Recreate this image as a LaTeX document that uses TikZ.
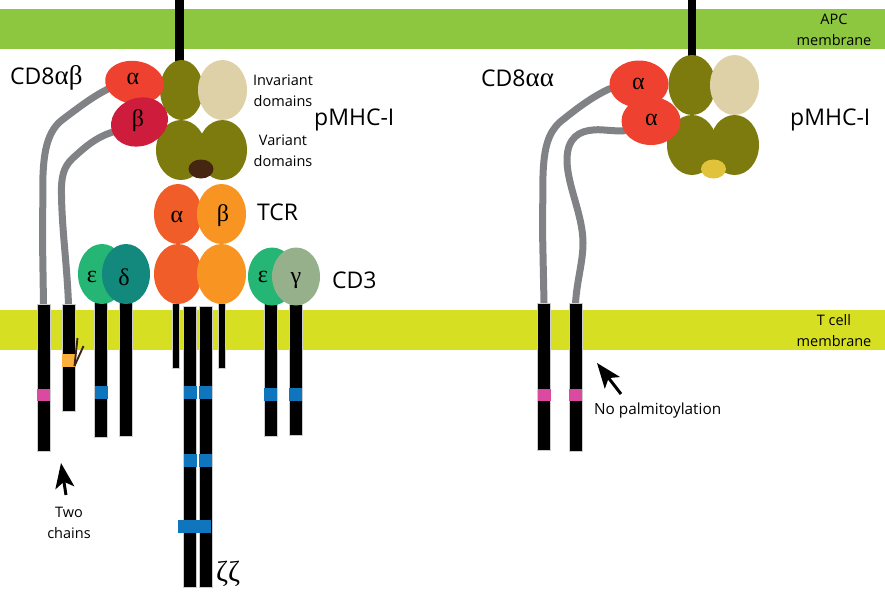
\documentclass[tikz,border=0pt]{standalone}
\usepackage{fontspec}
\setmainfont{Open Sans}
\newfontfamily\greekface{Liberation Serif}
\usetikzlibrary{shapes.geometric,arrows.meta}
\pgfdeclarelayer{tails}
\pgfsetlayers{tails,main}
\definecolor{apcgreen}{HTML}{8DC63F}
\definecolor{tcellyellow}{HTML}{D7DF23}
\definecolor{olive}{HTML}{7D7A0E}
\definecolor{beige}{HTML}{DFD1A7}
\definecolor{peptidedark}{HTML}{472611}
\definecolor{peptidegold}{HTML}{E0C23B}
\definecolor{cdred}{HTML}{EF4130}
\definecolor{cdcrimson}{HTML}{CE1C3C}
\definecolor{tcrorange}{HTML}{F15D28}
\definecolor{tcramber}{HTML}{F89522}
\definecolor{epsgreen}{HTML}{25B574}
\definecolor{delteal}{HTML}{12897C}
\definecolor{gamsage}{HTML}{95B08B}
\definecolor{tailgray}{HTML}{808285}
\definecolor{bandblue}{HTML}{0F75BC}
\definecolor{bandpink}{HTML}{DA4AA0}
\definecolor{bandorange}{HTML}{FBB03B}
\definecolor{fatty}{HTML}{3C2415}
\tikzset{
  x=1pt, y=-1pt,
  membrane/.style={rectangle, inner sep=0pt, minimum width=885pt, minimum height=40pt},
  dom/.style={ellipse, inner sep=0pt, minimum width=#1},
  dom/.default=48pt,
  chainbar/.style={rectangle, anchor=north, inner sep=0pt, fill=black, draw=gray!40, line width=0.5pt, minimum width=13pt},
  thinbar/.style={chainbar, minimum width=7.5pt},
  band/.style={rectangle, inner sep=0pt, minimum width=13pt, minimum height=12.5pt},
  tail/.style={draw=tailgray, line width=7pt, line cap=butt, line join=round},
  stalk/.style={rectangle, anchor=north, inner sep=0pt, fill=black},
  bigtext/.style={font=\fontsize{23}{27}\selectfont, inner sep=0pt},
  smalltext/.style={font=\fontsize{14.5}{21}\selectfont, inner sep=0pt, align=center},
  greek/.style={font=\greekface\fontsize{24}{26}\selectfont, inner sep=0pt},
  pointer/.style={line width=3pt, -{Stealth[length=25pt,width=19pt,inset=6pt]}}
}
\newcommand{\labelgreek}[1]{{\greekface\fontsize{27}{27}\selectfont #1}}
\begin{document}
\begin{tikzpicture}
\useasboundingbox (0,0) rectangle (885,600);

% membranes
\node[membrane, fill=apcgreen] (apc) at (442.5,29) {};
\node[membrane, fill=tcellyellow] (tcell) at (442.5,330) {};
\node[smalltext] (apclabel) at (834,29.5) {APC\\membrane};
\node[smalltext] (tcelllabel) at (834,330.5) {T cell\\membrane};

% MHC anchors through the APC membrane
\node[stalk, minimum width=9pt, minimum height=62pt] (stalkL) at (179.5,0) {};
\node[stalk, minimum width=8pt, minimum height=56pt] (stalkR) at (692,0) {};

% cytoplasmic and transmembrane chains, left complex
\node[chainbar, minimum height=147pt] (cdA) at (43.5,304) {};
\node[chainbar, minimum height=107pt] (cdB) at (68.5,304) {};
\node[chainbar, minimum height=137pt] (epsL) at (101,300) {};
\node[chainbar, minimum height=136pt] (delta) at (125.5,300) {};
\node[thinbar, minimum height=65pt] (tcrA) at (175.5,303) {};
\node[thinbar, minimum height=65pt] (tcrB) at (221.5,303) {};
\node[chainbar, minimum height=281pt] (zetaA) at (190,306) {};
\node[chainbar, minimum height=281pt] (zetaB) at (205.5,306) {};
\node[chainbar, minimum height=136pt] (epsR) at (270.5,300) {};
\node[chainbar, minimum height=131pt] (gamma) at (295.5,304) {};

% signalling and palmitoylation bands
\node[band, fill=bandpink] (pinkA) at (43.5,395) {};
\node[band, fill=bandorange] (palm) at (68.5,360.5) {};
\node[band, fill=bandblue] (blueEps) at (101,392.5) {};
\node[band, fill=bandblue] (blueZa1) at (190,392.5) {};
\node[band, fill=bandblue] (blueZb1) at (205.5,392.5) {};
\node[band, fill=bandblue] (blueZa2) at (190,460.5) {};
\node[band, fill=bandblue] (blueZb2) at (205.5,460.5) {};
\node[band, fill=bandblue, minimum width=33.5pt] (blueWide) at (194.7,526.5) {};
\node[band, fill=bandblue] (blueEpsR) at (270.5,394.5) {};
\node[band, fill=bandblue] (blueGam) at (295.5,394.5) {};

% palmitate chains
\coordinate (fatA) at (77.5,338);
\coordinate (fatB) at (83.5,346);
\coordinate (fatFoot) at (74.5,366);
\draw[fatty, line width=1.9pt] (fatA) -- (fatFoot);
\draw[fatty, line width=1.9pt] (fatB) -- (fatFoot);

% chains, right complex
\node[chainbar, minimum height=147pt] (ccA) at (544,303) {};
\node[chainbar, minimum height=148pt] (ccB) at (575.5,303) {};
\node[band, fill=bandpink] (pinkC) at (544,395) {};
\node[band, fill=bandpink] (pinkD) at (575.5,395) {};

% peptide-MHC, left complex
\node[dom=43pt, minimum height=60pt, fill=olive] (mhcTopL) at (181.5,90) {};
\node[dom=49pt, minimum height=60pt, fill=beige] (b2mL) at (222.5,90) {};
\node[dom=50pt, minimum height=60pt, fill=olive] (mhcVarL1) at (181,150) {};
\node[dom=49pt, minimum height=60pt, fill=olive] (mhcVarL2) at (222.5,150) {};
\node[dom=25pt, minimum height=19pt, fill=peptidedark] (pepL) at (201,169) {};

% CD8 heads sit above the MHC; their stalks run behind them
\node[dom=59pt, minimum height=43pt, fill=cdred, rotate=-8] (cd8a) at (134.5,82.5) {};
\node[dom=58pt, minimum height=48pt, fill=cdcrimson, rotate=20] (cd8b) at (139.5,122) {};
\node[greek] (gA1) at (133,79) {α};
\node[greek] (gB1) at (138,121) {β};
\begin{pgfonlayer}{tails}
\draw[tail] (cd8a.center) -- (108,89) .. controls (92,97) and (78,108) .. (62,120)
  .. controls (48,131) and (44,150) .. (43,175) -- (42.5,240) -- (cdA.north);
\draw[tail] (cd8b.center) -- (110,133) .. controls (95,138) and (84,148) .. (73,158)
  .. controls (63,167) and (61,178) .. (61.5,195)
  .. controls (62,230) and (67,265) .. (cdB.north);
\end{pgfonlayer}

% TCR
\node[dom=48pt, minimum height=60pt, fill=tcrorange] (tcrA1) at (178,214) {};
\node[dom=49pt, minimum height=60pt, fill=tcramber] (tcrB1) at (221.5,214) {};
\node[dom=48pt, minimum height=60pt, fill=tcrorange] (tcrA2) at (178,274) {};
\node[dom=49pt, minimum height=60pt, fill=tcramber] (tcrB2) at (221.5,274) {};
\node[greek] (gA2) at (177,217) {α};
\node[greek] (gB2) at (223,216) {β};

% CD3
\node[dom=48pt, minimum height=60pt, fill=epsgreen] (e1) at (102,274) {};
\node[dom=48pt, minimum height=60pt, fill=delteal] (d1) at (126,274) {};
\node[dom=48pt, minimum height=58pt, fill=epsgreen] (e2) at (272,276.5) {};
\node[dom=48pt, minimum height=58pt, fill=gamsage] (g1) at (296,276.5) {};
\node[greek] (gE1) at (92,277) {ε};
\node[greek] (gD1) at (124,277) {δ};
\node[greek] (gE2) at (263,277) {ε};
\node[greek] (gG1) at (296,281) {γ};

% right complex
\node[dom=47pt, minimum height=60pt, fill=olive] (mhcTopR) at (692,85) {};
\node[dom=49pt, minimum height=60pt, fill=beige] (b2mR) at (734.5,85) {};
\node[dom=50pt, minimum height=60pt, fill=olive] (mhcVarR1) at (692,145) {};
\node[dom=49pt, minimum height=60pt, fill=olive] (mhcVarR2) at (734.5,145) {};
\node[dom=25pt, minimum height=19pt, fill=peptidegold] (pepR) at (713.5,169) {};
\node[dom=59pt, minimum height=47pt, fill=cdred] (cd8c) at (639,84) {};
\node[dom=59pt, minimum height=48pt, fill=cdred] (cd8d) at (651,121) {};
\node[greek] (gA3) at (638.5,84) {α};
\node[greek] (gA4) at (651.5,120) {α};
\begin{pgfonlayer}{tails}
\draw[tail] (cd8c.center) -- (609,89) .. controls (590,98) and (575,110) .. (560,122)
  .. controls (548,133) and (544,148) .. (543,175) -- (542.5,230) -- (ccA.north);
\draw[tail] (cd8d.center) -- (623,131) .. controls (610,131) and (600,129) .. (593,130)
  .. controls (580,131) and (567,137) .. (567,160)
  .. controls (567,185) and (583,215) .. (583,243)
  .. controls (583,262) and (577,280) .. (ccB.north);
\end{pgfonlayer}

% labels
\node[bigtext, anchor=west] (lCD8ab) at (10,78) {CD8\labelgreek{αβ}};
\node[bigtext, anchor=west] (lCD8aa) at (481,78) {CD8\labelgreek{αα}};
\node[bigtext, anchor=west] (lMhcL) at (314,120) {pMHC-I};
\node[bigtext, anchor=west] (lMhcR) at (790,120) {pMHC-I};
\node[bigtext, anchor=west] (lTCR) at (257,212) {TCR};
\node[bigtext, anchor=west] (lCD3) at (332,280) {CD3};
\node[smalltext] (lInv) at (283,91) {Invariant\\domains};
\node[smalltext] (lVar) at (283,151) {Variant\\domains};
\node[smalltext] (lTwo) at (69,523) {Two\\chains};
\node[smalltext, anchor=west, font=\fontsize{15.3}{21}\selectfont] (lNoPalm) at (594,411) {No palmitoylation};
\node[greek, anchor=west, font=\greekface\fontsize{29}{30}\selectfont] (lZeta) at (216,574) {ζζ};

% pointers
\coordinate (twoTail) at (66,495);
\coordinate (twoTip) at (61,463);
\draw[pointer] (twoTail) -- (twoTip);
\coordinate (palmTail) at (621,394);
\coordinate (palmTip) at (597,363);
\draw[pointer] (palmTail) -- (palmTip);
\end{tikzpicture}
\end{document}
